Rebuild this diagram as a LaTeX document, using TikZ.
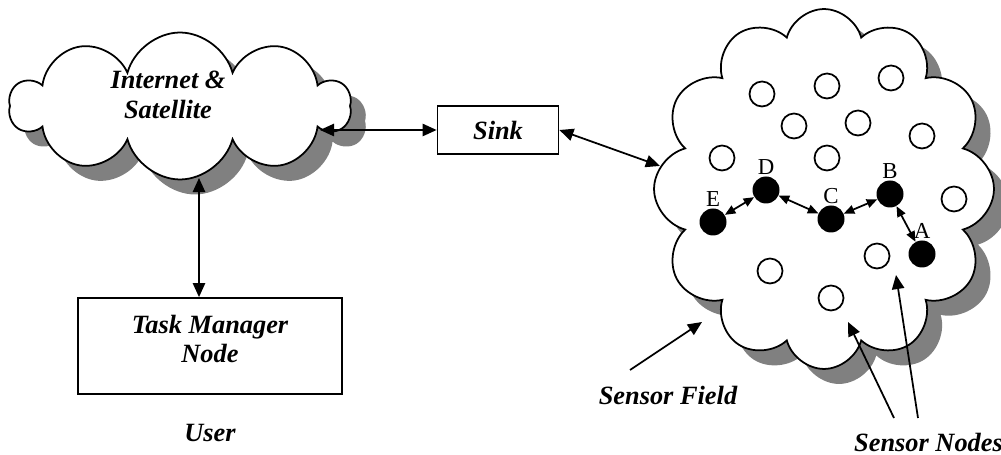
\documentclass[tikz,border=0pt]{standalone}
\usepackage{fontspec}
\setmainfont{Liberation Serif}
\usetikzlibrary{shapes.symbols, shadows, arrows.meta, positioning}

\tikzset{
    puff/.style={cloud, cloud ignores aspect, draw, line width=1pt, fill=white,
        drop shadow={shadow xshift=0.3cm, shadow yshift=-0.3cm, fill=black!50, opacity=1}},
    box/.style={rectangle, draw, line width=1pt, fill=white},
    lbl/.style={font=\fontsize{15}{17}\selectfont\bfseries\itshape, align=center},
    idle/.style={circle, draw, line width=1pt, minimum size=0.5cm, inner sep=0pt},
    busy/.style={circle, fill=black, minimum size=0.54cm, inner sep=0pt},
    tag/.style={font=\fontsize{13}{13}\selectfont, inner sep=0.5pt},
    link/.style={{Triangle[length=8pt,width=7pt]}-{Triangle[length=8pt,width=7pt]}, line width=1pt},
    hop/.style={{Triangle[length=6pt,width=5pt]}-{Triangle[length=6pt,width=5pt]}, line width=1pt},
    pointer/.style={-{Triangle[length=8pt,width=7pt]}, line width=1pt}
}

\begin{document}
\begin{tikzpicture}[x=0.02cm, y=-0.02cm]
    \useasboundingbox (0,0) rectangle (1001,455);

    \node[puff, cloud puffs=10, minimum width=6.8cm, minimum height=2.94cm] (net) at (180,106) {};
    \node[lbl] (netlbl) at (168,95) {Internet \&\\Satellite};
    \node[box, minimum width=2.42cm, minimum height=0.96cm, lbl] (sink) at (498,130) {Sink};
    \node[box, minimum width=5.28cm, minimum height=1.92cm] (task) at (210,346) {};
    \node[lbl] (tasklbl) at (210,339) {Task Manager\\Node};
    \node[lbl] (user) at (210,433) {User};

    \node[puff, cloud puffs=12, minimum width=6.8cm, minimum height=7.2cm] (field) at (824,189) {};

    \foreach \x/\y [count=\i] in {762/94, 827/86, 891/78, 794/126, 858/123, 922/136,
        722/158, 827/158, 954/199, 770/271, 877/256, 831/298}
        \node[idle] (s\i) at (\x,\y) {};

    \node[busy] (E) at (713,222) {};
    \node[busy] (D) at (766,190) {};
    \node[busy] (C) at (831,219) {};
    \node[busy] (B) at (890,194) {};
    \node[busy] (A) at (922,254) {};
    \foreach \n in {A,B,C,D,E}
        \node[tag, above=0pt of \n] {\n};

    \draw[hop] (E) -- (D);
    \draw[hop] (D) -- (C);
    \draw[hop] (C) -- (B);
    \draw[hop] (B) -- (A);

    \coordinate (netport) at (320,130);
    \coordinate (netfoot) at (199,178);
    \draw[link] (netport) -- (sink.west);
    \draw[link] (netfoot) -- (netfoot |- task.north);
    \draw[link] (sink.east) -- (field.172);

    \node[lbl] (fieldlbl) at (668,395) {Sensor Field};
    \node[lbl, anchor=base west] (nodeslbl) at (848,452) {Sensor Nodes};
    \coordinate (fieldtip) at (702,322);
    \coordinate (nodetip1) at (848,322);
    \coordinate (nodetip2) at (896,275);
    \draw[pointer] (630,370) -- (fieldtip);
    \draw[pointer] (894,418) -- (nodetip1);
    \draw[pointer] (918,418) -- (nodetip2);
\end{tikzpicture}
\end{document}
